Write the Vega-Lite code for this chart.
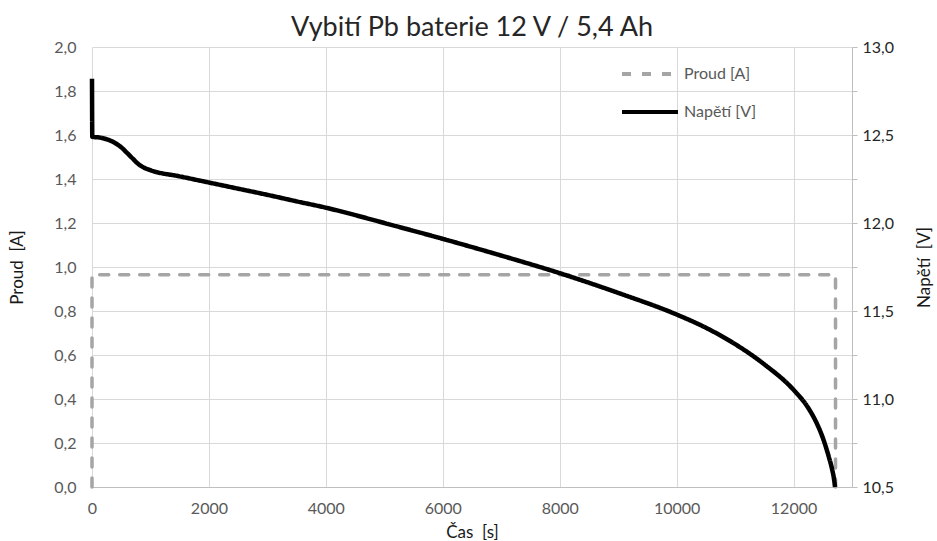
{
  "$schema": "https://vega.github.io/schema/vega-lite/v6.json",
  "autosize": "none",
  "width": 760,
  "height": 440,
  "padding": {"left": 92, "top": 47, "right": 85, "bottom": 54},
  "background": "white",
  "title": {"text": "Vybití Pb baterie 12 V / 5,4 Ah", "font": "Lato", "fontSize": 27, "fontWeight": "normal", "color": "#262626", "anchor": "middle", "offset": -3},
  "config": {
    "font": "Lato",
    "view": {"stroke": null},
    "axis": {"labelFont": "Lato", "titleFont": "Lato", "labelFontSize": 16, "titleFontSize": 17, "labelColor": "#595959", "titleColor": "#1a1a1a", "titleFontWeight": "normal", "gridColor": "#D9D9D9", "gridWidth": 1, "domainColor": "#BFBFBF", "tickColor": "#BFBFBF"},
    "legend": {"labelFont": "Lato", "labelFontSize": 16, "labelColor": "#595959"}
  },
  "layer": [
    {
      "data": {"values": [
        {"i": 1, "t": 0, "I": 0, "s": "Proud [A]"},
        {"i": 2, "t": 0, "I": 0.965, "s": "Proud [A]"},
        {"i": 3, "t": 12718, "I": 0.965, "s": "Proud [A]"},
        {"i": 4, "t": 12718, "I": 0, "s": "Proud [A]"}
      ]},
      "mark": {"type": "line", "strokeWidth": 3.5, "strokeCap": "round"},
      "encoding": {
        "x": {"field": "t", "type": "quantitative", "scale": {"domain": [0, 13000], "nice": false}, "axis": {"title": "Čas \u00a0[s]", "values": [0, 2000, 4000, 6000, 8000, 10000, 12000], "format": "d", "grid": true, "ticks": false, "labelFlush": false, "labelPadding": 13, "titlePadding": 8}},
        "y": {"field": "I", "type": "quantitative", "scale": {"domain": [0, 2], "nice": false}, "axis": {"title": "Proud \u00a0[A]", "values": [0, 0.2, 0.4, 0.6, 0.8, 1.0, 1.2, 1.4, 1.6, 1.8, 2.0], "labelExpr": "replace(format(datum.value, '.1f'), '.', ',')", "grid": true, "ticks": false, "domain": false, "labelPadding": 16, "titlePadding": 27}},
        "order": {"field": "i", "type": "quantitative"},
        "color": {"field": "s", "type": "nominal", "scale": {"domain": ["Proud [A]", "Napětí [V]"], "range": ["#A5A5A5", "#000000"]}, "legend": {"title": null, "orient": "none", "legendX": 528, "legendY": -3, "symbolType": "stroke", "symbolSize": 3136, "symbolStrokeWidth": 4, "labelOffset": 4, "rowPadding": -3}},
        "strokeDash": {"field": "s", "type": "nominal", "scale": {"domain": ["Proud [A]", "Napětí [V]"], "range": [[9, 11], [1, 0]]}, "legend": {"title": null, "orient": "none", "legendX": 528, "legendY": -3, "symbolType": "stroke", "symbolSize": 3136, "symbolStrokeWidth": 4, "labelOffset": 4, "rowPadding": -3}}
      }
    },
    {
      "data": {"values": [
        {"t": 0, "V": 12.82, "s": "Napětí [V]"},
        {"t": 5, "V": 12.49, "s": "Napětí [V]"},
        {"t": 140, "V": 12.485, "s": "Napětí [V]"},
        {"t": 365, "V": 12.46, "s": "Napětí [V]"},
        {"t": 500, "V": 12.43, "s": "Napětí [V]"},
        {"t": 594, "V": 12.4, "s": "Napětí [V]"},
        {"t": 700, "V": 12.365, "s": "Napětí [V]"},
        {"t": 793, "V": 12.335, "s": "Napětí [V]"},
        {"t": 870, "V": 12.318, "s": "Napětí [V]"},
        {"t": 1000, "V": 12.3, "s": "Napětí [V]"},
        {"t": 1500, "V": 12.265, "s": "Napětí [V]"},
        {"t": 2000, "V": 12.23, "s": "Napětí [V]"},
        {"t": 2500, "V": 12.195, "s": "Napětí [V]"},
        {"t": 3000, "V": 12.16, "s": "Napětí [V]"},
        {"t": 3500, "V": 12.123, "s": "Napětí [V]"},
        {"t": 4000, "V": 12.087, "s": "Napětí [V]"},
        {"t": 4500, "V": 12.045, "s": "Napětí [V]"},
        {"t": 5000, "V": 12.0, "s": "Napětí [V]"},
        {"t": 6000, "V": 11.91, "s": "Napětí [V]"},
        {"t": 7000, "V": 11.815, "s": "Napětí [V]"},
        {"t": 8000, "V": 11.715, "s": "Napětí [V]"},
        {"t": 9000, "V": 11.603, "s": "Napětí [V]"},
        {"t": 10000, "V": 11.48, "s": "Napětí [V]"},
        {"t": 10500, "V": 11.405, "s": "Napětí [V]"},
        {"t": 11000, "V": 11.312, "s": "Napětí [V]"},
        {"t": 11500, "V": 11.197, "s": "Napětí [V]"},
        {"t": 12000, "V": 11.052, "s": "Napětí [V]"},
        {"t": 12250, "V": 10.95, "s": "Napětí [V]"},
        {"t": 12400, "V": 10.86, "s": "Napětí [V]"},
        {"t": 12500, "V": 10.78, "s": "Napětí [V]"},
        {"t": 12600, "V": 10.675, "s": "Napětí [V]"},
        {"t": 12660, "V": 10.6, "s": "Napětí [V]"},
        {"t": 12690, "V": 10.55, "s": "Napětí [V]"},
        {"t": 12710, "V": 10.5, "s": "Napětí [V]"}
      ]},
      "mark": {"type": "line", "strokeWidth": 4.5, "interpolate": "monotone", "strokeCap": "butt"},
      "encoding": {
        "x": {"field": "t", "type": "quantitative"},
        "y": {"field": "V", "type": "quantitative", "scale": {"domain": [10.5, 13], "nice": false}, "axis": {"orient": "right", "title": "Napětí \u00a0[V]", "titleAngle": 270, "values": [10.5, 10.75, 11.0, 11.25, 11.5, 11.75, 12.0, 12.25, 12.5, 12.75, 13.0], "labelExpr": "(round(datum.value * 100) % 50 == 0) ? replace(format(datum.value, '.1f'), '.', ',') : ''", "labelColor": "#262626", "grid": false, "ticks": true, "tickSize": 5, "domain": true, "labelPadding": 5, "titlePadding": 40}},
        "color": {"field": "s", "type": "nominal"},
        "strokeDash": {"field": "s", "type": "nominal"}
      }
    }
  ],
  "resolve": {"scale": {"y": "independent"}}
}
